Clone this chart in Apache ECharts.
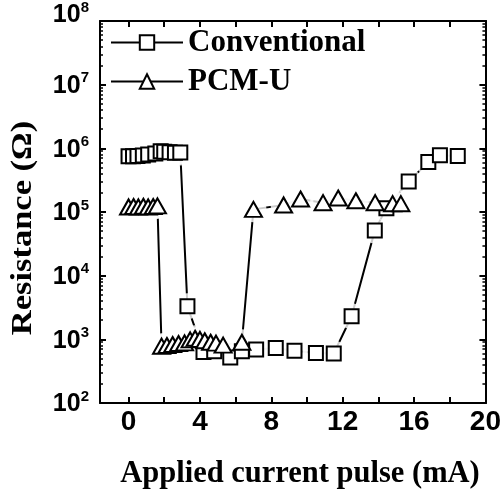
<!DOCTYPE html>
<html>
<head>
  <meta charset="utf-8">
  <title>Resistance vs applied current pulse</title>
  <script src="https://cdn.jsdelivr.net/npm/echarts@6/dist/echarts.min.js"></script>
  <style>
    html, body { margin: 0; padding: 0; background: #fff; }
    #chart-main { width: 504px; height: 495px; }
  </style>
</head>
<body>
<div id="chart-main"></div>
<script>
// Conventional cell (open squares)
var convX = [0, 0.25, 0.5, 0.8, 1.1, 1.5, 1.8, 2.0, 2.3, 2.6, 2.9,
             3.3, 4.2, 4.8, 5.7, 6.35, 7.15, 8.25, 9.3, 10.5, 11.5,
             12.5, 13.8, 14.45, 15.7, 16.8, 17.45, 18.45];
var convY = [7.5e5, 7.5e5, 7.6e5, 7.7e5, 8.0e5, 8.3e5, 9.0e5, 8.8e5, 8.7e5, 8.5e5, 8.6e5,
             3.3e3, 6.3e2, 6.5e2, 5.2e2, 6.5e2, 6.9e2, 7.3e2, 6.6e2, 6.1e2, 6.0e2,
             2.3e3, 5.1e4, 1.15e5, 3.0e5, 6.1e5, 7.8e5, 7.6e5];

// PCM-U cell (open triangles)
var pcmX = [0, 0.28, 0.55, 0.83, 1.1, 1.38, 1.62,
            1.85, 2.15, 2.47, 2.8, 3.14, 3.45, 3.73, 4.0, 4.27, 4.6, 4.9, 5.3, 6.35,
            7.0, 8.69, 9.64, 10.9, 11.75, 12.74, 13.82, 14.8, 15.26];
var pcmY = [1.2e5, 1.22e5, 1.2e5, 1.23e5, 1.2e5, 1.22e5, 1.25e5,
            7.8e2, 8.0e2, 8.3e2, 8.6e2, 8.8e2, 9.8e2, 1.04e3, 1.0e3, 9.5e2, 9.0e2, 8.7e2, 8.1e2, 9.0e2,
            1.1e5, 1.29e5, 1.6e5, 1.4e5, 1.66e5, 1.5e5, 1.4e5, 1.35e5, 1.35e5];

// axis ticks
var xLabelValues = [0, 4, 8, 12, 16, 20];
var xTickValues = [0, 2, 4, 6, 8, 10, 12, 14, 16, 18, 20];
var yMin = 1e2, yMax = 1e8;

// minor ticks of the log axis, drawn on helper axes in log10 space
var yMinorTicks = [];
for (var d = 2; d < 8; d++) {
  for (var k = 2; k < 10; k++) yMinorTicks.push(d + Math.log10(k));
}

function pairs(xs, ys) {
  return xs.map(function (x, i) { return [x, ys[i]]; });
}

var convData = pairs(convX, convY);
var pcmData = pairs(pcmX, pcmY);

var black = '#000';
var axisLine = { show: true, onZero: false, lineStyle: { color: black, width: 2 } };
var noSplit = { show: false };
var sansBold = { fontFamily: 'Liberation Sans', fontWeight: 'bold', color: black };
var serifBold = 'Liberation Serif';

function helperY(position, ticks, len, width) {
  return {
    type: 'value', position: position, min: 2, max: 8,
    axisLine: position === 'right' ? axisLine : { show: false, onZero: false },
    axisTick: { show: true, inside: true, length: len, customValues: ticks, lineStyle: { color: black, width: width } },
    axisLabel: { show: false }, splitLine: noSplit
  };
}

var myChart = echarts.init(document.getElementById('chart-main'), null, { renderer: 'canvas' });

var option = {
  backgroundColor: '#fff',
  animation: false,
  grid: { left: 100, top: 15, right: 6, bottom: 92 },
  legend: {
    data: ['Conventional', 'PCM-U'],
    orient: 'vertical', left: 105, top: 22,
    itemWidth: 72, itemHeight: 18, itemGap: 8,
    selectedMode: false,
    lineStyle: { color: black, width: 2, opacity: 1 },
    textStyle: { fontFamily: serifBold, fontWeight: 'bold', fontSize: 31, color: black, lineHeight: 30 }
  },
  xAxis: [{
    type: 'value', position: 'bottom', min: -1.6, max: 20,
    axisLine: axisLine,
    axisTick: { show: true, inside: true, length: 6, customValues: xTickValues, lineStyle: { color: black, width: 2 } },
    axisLabel: Object.assign({ customValues: xLabelValues, fontSize: 28, lineHeight: 28, margin: 5 }, sansBold),
    splitLine: noSplit
  }, {
    type: 'value', position: 'top', min: -1.6, max: 20,
    axisLine: axisLine,
    axisTick: { show: true, inside: true, length: 6, customValues: xTickValues, lineStyle: { color: black, width: 2 } },
    axisLabel: { show: false }, splitLine: noSplit
  }],
  yAxis: [{
    type: 'log', logBase: 10, position: 'left', min: yMin, max: yMax,
    axisLine: axisLine,
    axisTick: { show: true, inside: true, length: 6, lineStyle: { color: black, width: 2 } },
    axisLabel: {
      margin: 11,
      formatter: function (v) {
        var e = Math.round(Math.log(v) / Math.LN10);
        var s = '{b|10}{s|' + e + '}';
        // the top label sits partly above the picture in the original
        if (e === 8) s += '\n{gap| }';
        return s;
      },
      rich: {
        b: { fontFamily: 'Liberation Sans', fontWeight: 'bold', fontSize: 25, lineHeight: 28, verticalAlign: 'bottom', color: black },
        s: { fontFamily: 'Liberation Sans', fontWeight: 'bold', fontSize: 15, lineHeight: 15, verticalAlign: 'top', color: black },
        gap: { fontSize: 2, lineHeight: 14 }
      }
    },
    splitLine: noSplit
  },
    helperY('right', [3, 4, 5, 6, 7], 6, 2),
    helperY('left', yMinorTicks, 3, 1.5),
    helperY('right', yMinorTicks, 3, 1.5)
  ],
  graphic: [{
    type: 'text', x: 300, y: 474,
    style: { text: 'Applied current pulse (mA)', font: 'bold 30.5px "Liberation Serif"', fill: black, align: 'center', verticalAlign: 'middle' }
  }, {
    type: 'text', x: 23, y: 228, rotation: Math.PI / 2, scaleX: 1.15,
    style: { text: 'Resistance (\u03A9)', font: 'bold 30px "Liberation Serif"', fill: black, align: 'center', verticalAlign: 'middle' }
  }],
  series: [
    // connecting lines
    { name: 'conv-line', type: 'line', data: convData, symbol: 'none', z: 2, silent: true,
      lineStyle: { color: black, width: 2 } },
    { name: 'pcm-line', type: 'line', data: pcmData, symbol: 'none', z: 2, silent: true,
      lineStyle: { color: black, width: 2 } },
    // white gaps around the symbols
    { name: 'conv-gap', type: 'scatter', data: convData, symbol: 'circle', symbolSize: 26, z: 3, silent: true,
      itemStyle: { color: '#fff' } },
    { name: 'pcm-gap', type: 'scatter', data: pcmData, symbol: 'circle', symbolSize: 26, z: 3, silent: true,
      itemStyle: { color: '#fff' } },
    // symbols
    { name: 'Conventional', type: 'line', data: convData, symbol: 'rect', symbolSize: 14, showAllSymbol: true, z: 4,
      lineStyle: { opacity: 0 }, itemStyle: { color: '#fff', borderColor: black, borderWidth: 2 } },
    { name: 'PCM-U', type: 'line', data: pcmData, symbol: 'triangle', symbolSize: [17, 15], showAllSymbol: true, z: 5,
      lineStyle: { opacity: 0 }, itemStyle: { color: '#fff', borderColor: black, borderWidth: 2 } }
  ]
};

myChart.setOption(option);
</script>
</body>
</html>
